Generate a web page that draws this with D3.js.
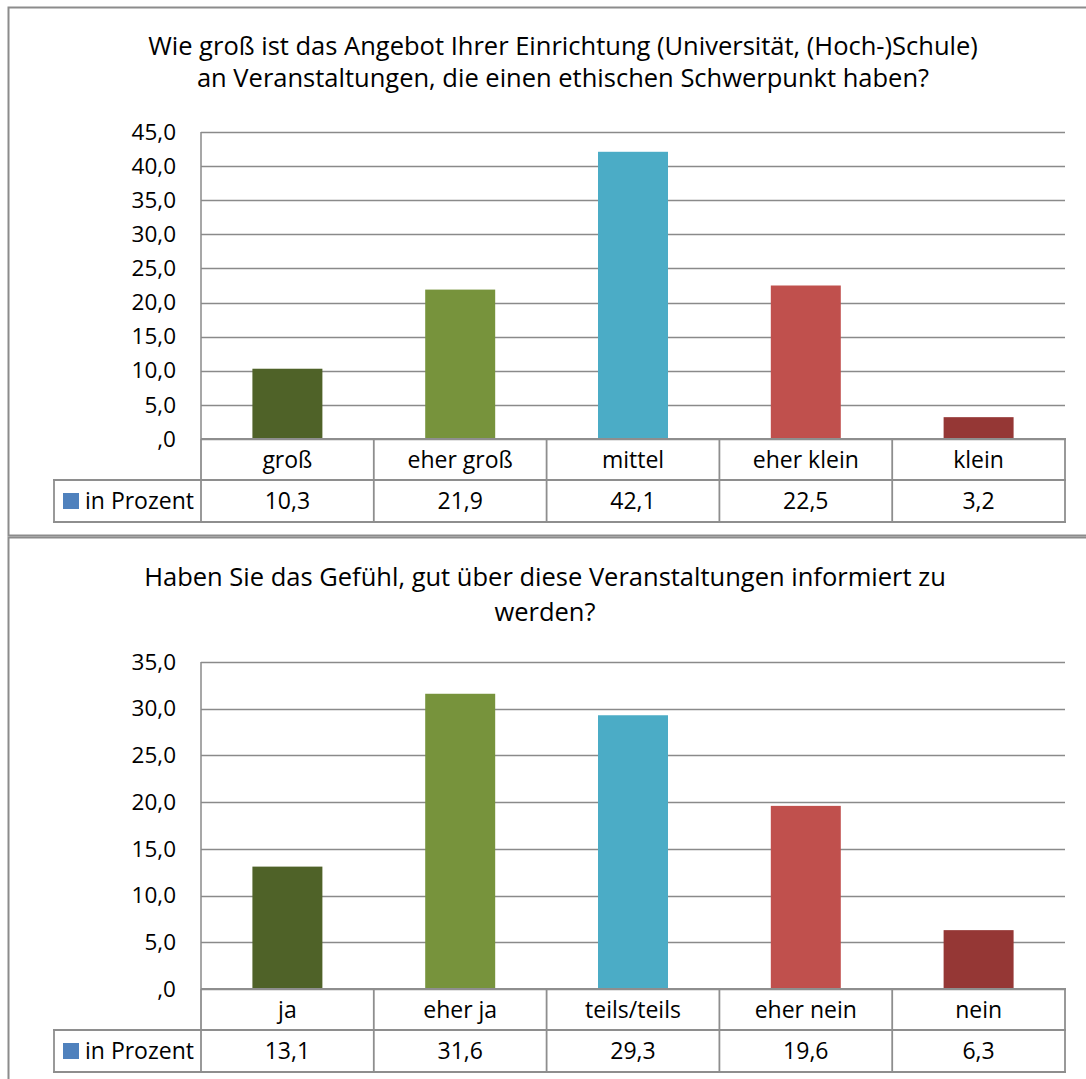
<!DOCTYPE html>
<html>
<head>
<meta charset="utf-8">
<script src="https://cdn.jsdelivr.net/npm/d3@7"></script>
<style>
  body { margin: 0; background: #fff; }
  svg text { font-family: "Open Sans", "Noto Sans", sans-serif; fill: #000; }
</style>
</head>
<body>
<div id="chart"></div>
<script>
// data
var categories1 = ["groß", "eher groß", "mittel", "eher klein", "klein"];
var values1 = [10.3, 21.9, 42.1, 22.5, 3.2];
var ticks1 = [0, 5, 10, 15, 20, 25, 30, 35, 40, 45];
var title1 = ["Wie groß ist das Angebot Ihrer Einrichtung (Universität, (Hoch-)Schule)",
              "an Veranstaltungen, die einen ethischen Schwerpunkt haben?"];

var categories2 = ["ja", "eher ja", "teils/teils", "eher nein", "nein"];
var values2 = [13.1, 31.6, 29.3, 19.6, 6.3];
var ticks2 = [0, 5, 10, 15, 20, 25, 30, 35];
var title2 = ["Haben Sie das Gefühl, gut über diese Veranstaltungen informiert zu",
              "werden?"];

var seriesName = "in Prozent";
var barColors = ["#4f6228", "#77933c", "#4bacc6", "#c0504d", "#953735"];
var legendColor = "#4f81bd";

var width = 1086, height = 1079;
var gridColor = "#8a8a8a";
var tickSize = 22.5, tableSize = 23, titleSize = 25.5;

var svg = d3.select("#chart").append("svg")
  .attr("width", width)
  .attr("height", height);

// german number format: 10,3  /  ,0 for zero
function fmt(v) {
  var s = d3.format(".1f")(v).replace(".", ",");
  if (s === "0,0") s = ",0";
  return s;
}

function drawChart(opt) {
  var g = svg.append("g");

  // outer frame of the chart (runs off the right edge)
  g.append("rect")
    .attr("x", 8.5)
    .attr("y", opt.frameTop + 0.5)
    .attr("width", 1100)
    .attr("height", opt.frameHeight)
    .attr("fill", "none")
    .attr("stroke", "#8c8c8c")
    .attr("stroke-width", 2);

  // title
  g.selectAll(".title")
    .data(opt.title)
    .enter().append("text")
    .attr("x", opt.titleX)
    .attr("y", function(d, i) { return opt.titleY + i * opt.lineGap; })
    .attr("text-anchor", "middle")
    .style("font-size", titleSize + "px")
    .text(function(d) { return d; });

  var x = d3.scaleBand()
    .domain(opt.categories)
    .range([201, 1065]);

  var y = d3.scaleLinear()
    .domain([0, d3.max(opt.ticks)])
    .range([opt.plotBottom, opt.plotTop]);

  // gridlines
  g.selectAll(".grid")
    .data(opt.ticks)
    .enter().append("line")
    .attr("x1", 201)
    .attr("x2", 1065)
    .attr("y1", function(d) { return Math.round(y(d)) + 0.5; })
    .attr("y2", function(d) { return Math.round(y(d)) + 0.5; })
    .attr("stroke", gridColor)
    .attr("stroke-width", 1.3);

  // y axis line
  g.append("line")
    .attr("x1", 201).attr("x2", 201)
    .attr("y1", opt.plotTop).attr("y2", opt.plotBottom)
    .attr("stroke", gridColor)
    .attr("stroke-width", 1.5);

  // tick labels
  var yAxis = d3.axisLeft(y).tickValues(opt.ticks).tickFormat(fmt).tickSize(0).tickPadding(25);
  var ax = g.append("g")
    .attr("transform", "translate(201,0)")
    .call(yAxis);
  ax.select(".domain").remove();
  ax.selectAll("text")
    .attr("fill", "#000")
    .style("font-size", tickSize + "px")
    .style("font-family", "'Open Sans', sans-serif");

  // bars
  var bw = x.bandwidth() * 0.405;
  g.selectAll(".bar")
    .data(opt.values)
    .enter().append("rect")
    .attr("x", function(d, i) { return x(opt.categories[i]) + (x.bandwidth() - bw) / 2; })
    .attr("y", function(d) { return y(d); })
    .attr("width", bw)
    .attr("height", function(d) { return opt.plotBottom - y(d); })
    .attr("fill", function(d, i) { return barColors[i]; });

  // data table
  var r0 = opt.plotBottom, r1 = opt.plotBottom + 41, r2 = opt.plotBottom + 83;
  var tcol = "#8e8e8e";
  var tw = 1.8;

  // horizontal lines
  g.append("line").attr("x1", 201).attr("x2", 1066).attr("y1", r1).attr("y2", r1)
    .attr("stroke", tcol).attr("stroke-width", tw);
  g.append("line").attr("x1", 53).attr("x2", 201).attr("y1", r1).attr("y2", r1)
    .attr("stroke", tcol).attr("stroke-width", tw);
  g.append("line").attr("x1", 53).attr("x2", 1066).attr("y1", r2).attr("y2", r2)
    .attr("stroke", tcol).attr("stroke-width", tw);
  g.append("line").attr("x1", 201).attr("x2", 1066).attr("y1", r0).attr("y2", r0)
    .attr("stroke", tcol).attr("stroke-width", tw);
  // vertical lines
  g.append("line").attr("x1", 54).attr("x2", 54).attr("y1", r1).attr("y2", r2)
    .attr("stroke", tcol).attr("stroke-width", tw);
  var xs = opt.categories.map(function(c) { return x(c); }).concat([x.range()[1]]);
  g.selectAll(".vline")
    .data(xs)
    .enter().append("line")
    .attr("x1", function(d) { return d; })
    .attr("x2", function(d) { return d; })
    .attr("y1", r0)
    .attr("y2", r2)
    .attr("stroke", tcol)
    .attr("stroke-width", tw);

  // category labels
  g.selectAll(".cat")
    .data(opt.categories)
    .enter().append("text")
    .attr("x", function(d) { return x(d) + x.bandwidth() / 2; })
    .attr("y", (r0 + r1) / 2)
    .attr("dy", "0.35em")
    .attr("text-anchor", "middle")
    .style("font-size", tableSize + "px")
    .text(function(d) { return d; });

  // values row
  g.selectAll(".val")
    .data(opt.values)
    .enter().append("text")
    .attr("x", function(d, i) { return x(opt.categories[i]) + x.bandwidth() / 2; })
    .attr("y", (r1 + r2) / 2)
    .attr("dy", "0.35em")
    .attr("text-anchor", "middle")
    .style("font-size", tableSize + "px")
    .text(function(d) { return fmt(d); });

  // legend key
  g.append("rect")
    .attr("x", 63).attr("y", r1 + 13)
    .attr("width", 16).attr("height", 16)
    .attr("fill", legendColor);
  g.append("text")
    .attr("x", 85)
    .attr("y", (r1 + r2) / 2)
    .attr("dy", "0.35em")
    .style("font-size", tableSize + "px")
    .text(seriesName);
}

drawChart({
  frameTop: 7, frameHeight: 528,
  title: title1, titleX: 563, titleY: 55, lineGap: 32,
  categories: categories1, values: values1, ticks: ticks1,
  plotTop: 132, plotBottom: 439
});

drawChart({
  frameTop: 537, frameHeight: 600,
  title: title2, titleX: 545, titleY: 586, lineGap: 35,
  categories: categories2, values: values2, ticks: ticks2,
  plotTop: 662, plotBottom: 989
});
</script>
</body>
</html>
